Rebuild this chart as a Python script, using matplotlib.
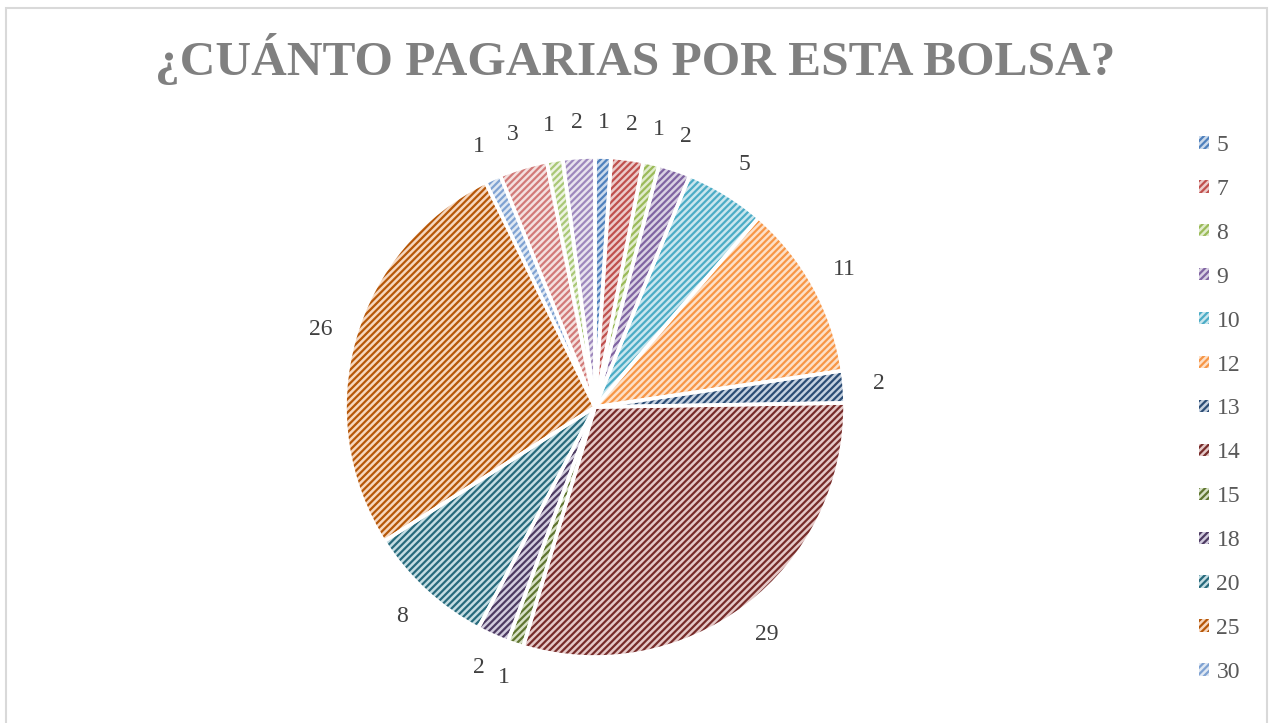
import matplotlib
matplotlib.use("Agg")
import matplotlib.pyplot as plt
from matplotlib.patches import Rectangle
from matplotlib.colors import to_rgb

# ---- data ----
categories = ["5", "7", "8", "9", "10", "12", "13", "14", "15", "18", "20", "25", "30", "35", "40", "50"]
values = [1, 2, 1, 2, 5, 11, 2, 29, 1, 2, 8, 26, 1, 3, 1, 2]
legend_count = 13  # legend in the reference shows only the first 13 entries
title = "¿CUÁNTO PAGARIAS POR ESTA BOLSA?"

# ---- style ----
colors = ["#4F81BD", "#C0504D", "#9BBB59", "#8064A2", "#4BACC6", "#F79646",
          "#2C4D75", "#772C2A", "#5F7530", "#4D3B62", "#276A7C", "#B65708",
          "#7FA2D2", "#D27A78", "#A9C876", "#9E88BD"]
face_base = ["#4F81BD", "#C0504D", "#9BBB59", "#8064A2", "#4BACC6", "#F79646",
             "#3E6499", "#A84A48", "#7A9A40", "#6A5690", "#3A8DA3", "#E07A2A",
             "#95B3D7", "#D99694", "#C3D69B", "#B3A2C7"]


def tint(c, a):
    r, g, b = to_rgb(c)
    return (1 - a + a * r, 1 - a + a * g, 1 - a + a * b)


faces = [tint(c, 0.3) for c in face_base]

W, H = 1271, 723
fig = plt.figure(figsize=(W / 100, H / 100), dpi=100)
fig.patch.set_facecolor("white")
plt.rcParams["hatch.linewidth"] = 1.6

cx, cy, R = 595, 407, 250
ax = fig.add_axes([(cx - R) / W, (H - cy - R) / H, 2 * R / W, 2 * R / H])

# hatched layer
w1, _ = ax.pie(values, colors=faces, startangle=90, counterclock=False,
               wedgeprops=dict(linewidth=0))
for w, c in zip(w1, colors):
    w.set_edgecolor(c)
    w.set_hatch("/////")
    w.set_linewidth(0)

# white separators + labels
w2, texts = ax.pie(values, colors=["none"] * len(values), startangle=90, counterclock=False,
                   labels=[str(v) for v in values], labeldistance=1.14,
                   wedgeprops=dict(edgecolor="white", linewidth=2.6),
                   textprops=dict(fontsize=17, color="#404040", family="Liberation Serif"))
for t in texts:
    t.set_ha("center")
    t.set_va("center")

ax.set_xlim(-1, 1)
ax.set_ylim(-1, 1)
ax.set_aspect("equal")
ax.axis("off")

# legend
leg = fig.legend(w1[:legend_count], categories[:legend_count], loc="upper left",
                 bbox_to_anchor=(1199 / W, 1 - 135 / H), frameon=False,
                 handlelength=0.42, handleheight=0.42, handletextpad=0.32,
                 labelspacing=0.97, borderpad=0, borderaxespad=0,
                 prop=dict(family="Liberation Serif", size=17))
for t in leg.get_texts():
    t.set_color("#595959")

# title
tt = fig.text(0.5, 1 - 59 / H, title, ha="center", va="center", fontsize=34,
              fontweight="bold", color="#808080", family="Liberation Serif")
fig.canvas.draw()
bb = tt.get_window_extent()
tt.set_fontsize(34 * 960 / bb.width)

# chart border
fig.add_artist(Rectangle((5.5 / W, -0.01), (1267 - 5.5) / W, 1 - 7.5 / H + 0.01,
                         transform=fig.transFigure, fill=False,
                         edgecolor="#d9d9d9", linewidth=1.5))

fig.savefig("out.png", dpi=100)
